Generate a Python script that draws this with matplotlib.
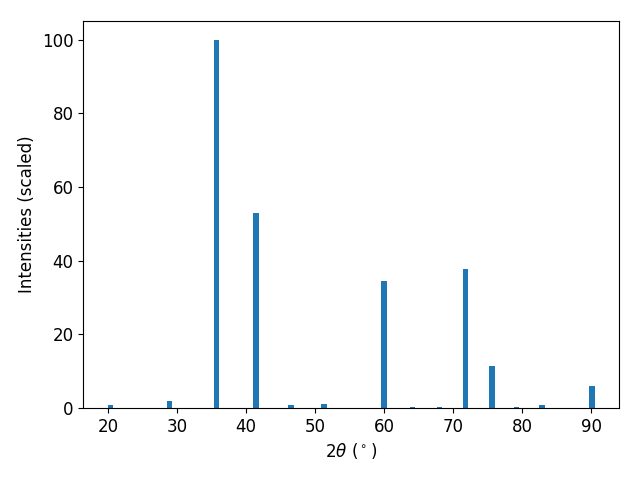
import matplotlib
matplotlib.use("Agg")
import matplotlib.pyplot as plt

# peak positions (2theta, degrees) and scaled intensities
two_theta = [20.3, 28.9, 35.7, 41.4, 46.5, 51.3, 60.0, 64.1, 68.0, 71.8, 75.6, 79.2, 82.9, 90.1]
intensity = [0.7, 2.0, 100.0, 52.8, 0.7, 1.0, 34.6, 0.35, 0.35, 37.8, 11.5, 0.35, 0.7, 6.1]

plt.rcParams['font.size'] = 12

fig, ax = plt.subplots(figsize=(6.4, 4.8), dpi=100)
ax.bar(two_theta, intensity, width=0.8, color='#1f77b4')
ax.set_xlabel(r'$2\theta$ ($^\circ$)')
ax.set_ylabel('Intensities (scaled)')
fig.subplots_adjust(left=0.13, right=0.967, top=0.956, bottom=0.15)
fig.savefig('out.png')
